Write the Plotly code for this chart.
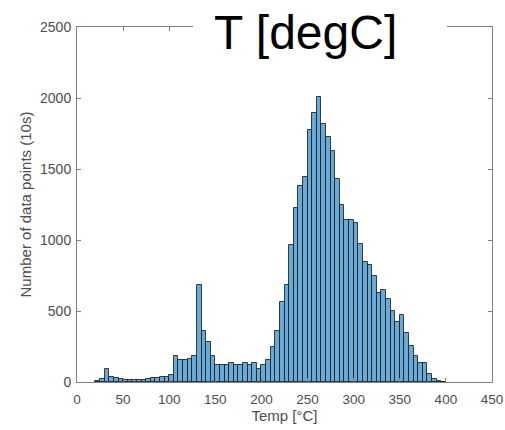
import plotly.graph_objects as go

# Histogram bins (5 degC wide), left edges and counts
bin_left = list(range(20, 400, 5))
counts = [5, 20, 89, 35, 26, 21, 14, 14, 14, 14, 14, 20, 26, 30, 33, 36, 46,
          183, 153, 155, 165, 184, 680, 357, 283, 182,
          118, 118, 118, 132, 118, 118, 132, 118, 132, 94, 118, 153, 247, 360,
          563, 681, 963, 1222, 1378, 1446, 1773, 1897, 2005, 1815, 1727, 1627,
          1427, 1244, 1143, 1143, 1123, 970, 846, 822, 750, 629, 651, 583, 498,
          423, 475, 345, 254, 184, 134, 134, 59, 24, 4, 3]
bin_width = 5
x_ticks = [0, 50, 100, 150, 200, 250, 300, 350, 400, 450]
y_ticks = [0, 500, 1000, 1500, 2000, 2500]

centers = [b + bin_width / 2 for b in bin_left]

fig = go.Figure()
fig.add_trace(go.Bar(
    x=centers, y=counts, width=[bin_width] * len(centers),
    marker=dict(color="rgb(102,170,215)", line=dict(color="rgba(20,20,20,0.8)", width=1)),
    showlegend=False,
))

W, H = 505, 430
L, R, T, B = 77, 13, 27, 48
pw, ph = W - L - R, H - T - B

axis_common = dict(
    showline=True, mirror="ticks", linecolor="#808080", linewidth=1,
    ticks="inside", ticklen=4, tickcolor="#808080", tickwidth=1,
    showgrid=False, zeroline=False,
)

fig.update_layout(
    width=W, height=H,
    margin=dict(l=L, r=R, t=T, b=B, autoexpand=False),
    paper_bgcolor="white", plot_bgcolor="white",
    bargap=0,
    xaxis=dict(range=[0, 450], tickvals=x_ticks, ticktext=[str(v) for v in x_ticks],
               ticklabelstandoff=5,
               tickfont=dict(family="Liberation Sans, Arial", size=13.5, color="#4d4d4d"),
               title=dict(text="Temp [°C]", standoff=2,
                          font=dict(family="Liberation Sans, Arial", size=15, color="#4d4d4d")),
               **axis_common),
    yaxis=dict(range=[0, 2500], tickvals=y_ticks, ticktext=[str(v) for v in y_ticks],
               ticklabelstandoff=2,
               tickfont=dict(family="Liberation Sans, Arial", size=14, color="#4d4d4d"),
               title=dict(text="Number of data points (10s)", standoff=4,
                          font=dict(family="Liberation Sans, Arial", size=15, color="#4d4d4d")),
               **axis_common),
)

# white box behind the big title, hiding part of the top axis line
fig.add_shape(type="rect", xref="paper", yref="paper",
              x0=(193 - L) / pw, x1=(447 - L) / pw,
              y0=(382 - 62) / ph, y1=(382 - 2) / ph,
              fillcolor="white", line=dict(width=0), layer="above")
fig.add_annotation(text="T [degC]", xref="paper", yref="paper",
                   x=(305 - L) / pw, y=(382 - 33) / ph,
                   xanchor="center", yanchor="middle", showarrow=False,
                   font=dict(family="Liberation Sans, Arial", size=48, color="black"))

fig.write_html(
    "out.html",
    config={"displayModeBar": False},
    post_script="document.body.style.margin='0';document.body.style.overflow='hidden';",
)
